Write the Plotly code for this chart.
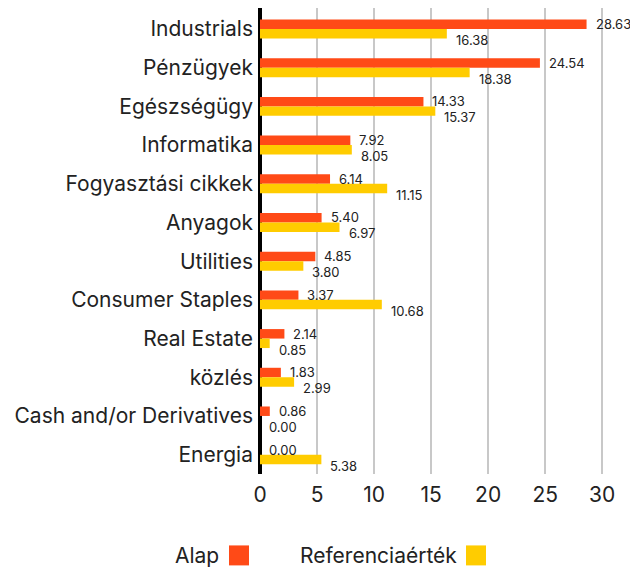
import plotly.graph_objects as go

categories = ["Industrials", "Pénzügyek", "Egészségügy", "Informatika", "Fogyasztási cikkek",
              "Anyagok", "Utilities", "Consumer Staples", "Real Estate", "közlés",
              "Cash and/or Derivatives", "Energia"]
alap = [28.63, 24.54, 14.33, 7.92, 6.14, 5.40, 4.85, 3.37, 2.14, 1.83, 0.86, 0.00]
referencia = [16.38, 18.38, 15.37, 8.05, 11.15, 6.97, 3.80, 10.68, 0.85, 2.99, 0.00, 5.38]
series_names = ["Alap", "Referenciaérték"]
colors = ["#FF4A17", "#FFCC00"]
x_ticks = [0, 5, 10, 15, 20, 25, 30]

FONT = "Inter"
OFF = 8  # browser body margin
W, H = 638 - OFF, 572 - OFF
fig = go.Figure()
for name, vals, col in zip(series_names, [alap, referencia], colors):
    fig.add_trace(go.Bar(y=categories, x=vals, orientation="h", name=name,
                         marker=dict(color=col, line=dict(width=0)), showlegend=False))

annotations = []
for vals, ys in [(alap, 5), (referencia, -11)]:
    for c, v in zip(categories, vals):
        annotations.append(dict(x=v, y=c, xref="x", yref="y", text=f"{v:.2f}", showarrow=False,
                                xanchor="left", yanchor="middle", xshift=7, yshift=ys,
                                font=dict(family=FONT, size=13, color="#222222")))

# custom legend (text followed by square); coordinates in screenshot pixels
L, R, T, B = 260 - OFF, 625 - OFF, 8 - OFF, 474.5 - OFF
def px(x): return (x - OFF - L) / (R - L)
def py(y): return (B - (y - OFF)) / (B - T)
legend_items = [(series_names[0], colors[0], 221, 229), (series_names[1], colors[1], 459, 466)]
shapes = []
for name, col, tx, sx in legend_items:
    annotations.append(dict(x=px(tx), y=py(556), xref="paper", yref="paper", text=name,
                            showarrow=False, xanchor="right", yanchor="middle",
                            font=dict(family=FONT, size=21, color="#222222")))
    shapes.append(dict(type="rect", xref="paper", yref="paper", x0=px(sx), x1=px(sx + 20),
                       y0=py(566), y1=py(546), fillcolor=col, line=dict(width=0)))

fig.update_layout(
    width=W, height=H,
    margin=dict(l=L, r=W - R, t=T, b=H - B, autoexpand=False),
    barmode="group", bargap=0.51, bargroupgap=0,
    plot_bgcolor="white", paper_bgcolor="white",
    font=dict(family=FONT, color="#222222"),
    xaxis=dict(range=[0, 32], tickvals=x_ticks, showgrid=True, gridcolor="#C8C8C8", gridwidth=2,
               zeroline=True, zerolinecolor="black", zerolinewidth=4,
               tickfont=dict(size=21, color="#222222"), ticks="", ticklabelstandoff=6,
               showline=False),
    yaxis=dict(autorange="reversed", showgrid=False, tickfont=dict(size=21, color="#222222"),
               ticks="", ticklabelstandoff=6, showline=False),
    annotations=annotations, shapes=shapes,
)
fig.write_html("out.html")
